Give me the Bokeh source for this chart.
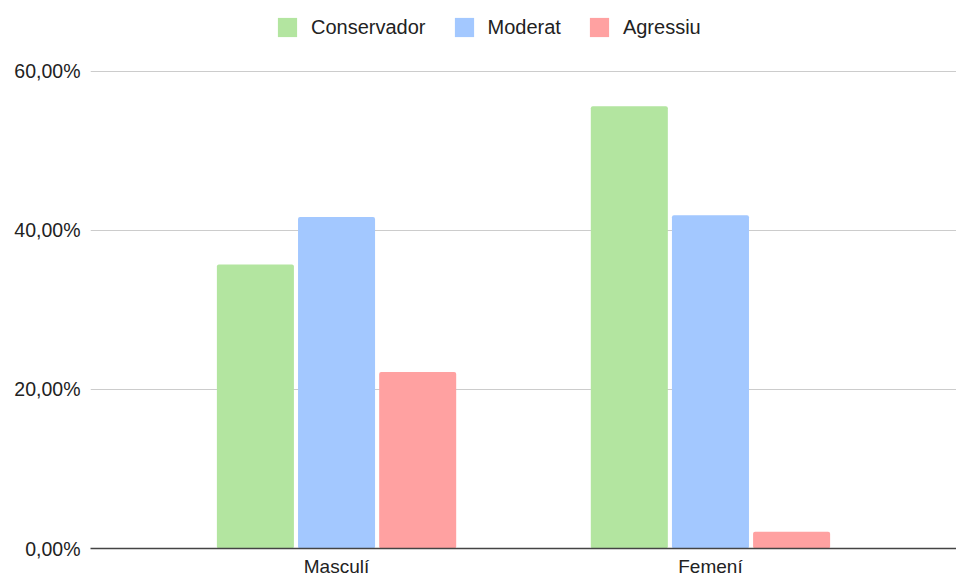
from bokeh.plotting import figure
from bokeh.models import FactorRange, Range1d, FixedTicker, Legend, LegendItem, ColumnDataSource
from bokeh.transform import dodge
from bokeh.embed import file_html
from bokeh.resources import INLINE

# ---- data ----
categories = ["Masculí", "Femení"]
series = ["Conservador", "Moderat", "Agressiu"]
conservador = [0.357, 0.556]
moderat = [0.417, 0.419]
agressiu = [0.222, 0.021]
y_ticks = [0.0, 0.2, 0.4, 0.6]
y_tick_labels = ["0,00%", "20,00%", "40,00%", "60,00%"]
colors = ["#b3e5a0", "#a3c8ff", "#ffa1a1"]

FONT = "Liberation Sans"

source = ColumnDataSource(data=dict(
    cat=categories,
    Conservador=conservador,
    Moderat=moderat,
    Agressiu=agressiu,
))

W, H = 956, 579
B = 549.0   # frame bottom (figure px)
TOP_LINE = 71.0
y_end = 0.6 * B / (B - TOP_LINE)

p = figure(
    x_range=FactorRange(*categories, range_padding=0.158, range_padding_units="absolute"),
    y_range=Range1d(0, y_end),
    width=W, height=H,
    output_backend="svg", toolbar_location=None,
    min_border_left=90, min_border_right=0, min_border_top=0, min_border_bottom=int(H - B),
)
p.outline_line_color = None
p.background_fill_color = "white"

offsets = [-0.217, 0.0, 0.217]
renderers = []
for name, off, col in zip(series, offsets, colors):
    r = p.vbar(x=dodge("cat", off, range=p.x_range), top=name, width=0.206,
               source=source, fill_color=col, line_color=None, border_radius=2)
    renderers.append(r)

p.xgrid.visible = False
p.ygrid.ticker = FixedTicker(ticks=y_ticks)
p.ygrid.grid_line_color = "#cccccc"
p.ygrid.grid_line_width = 1

p.yaxis.ticker = FixedTicker(ticks=y_ticks)
p.yaxis.major_label_overrides = {t: l for t, l in zip(y_ticks, y_tick_labels)}
p.yaxis.axis_line_color = None
p.yaxis.major_tick_line_color = None
p.yaxis.major_tick_out = 0
p.yaxis.major_tick_in = 0
p.yaxis.minor_tick_line_color = None
p.yaxis.major_label_standoff = 10
p.yaxis.major_label_text_font = FONT
p.yaxis.major_label_text_font_size = "19.5px"
p.yaxis.major_label_text_color = "#222222"

p.xaxis.axis_line_color = "#444444"
p.xaxis.axis_line_width = 1.5
p.xaxis.major_tick_line_color = None
p.xaxis.major_tick_out = 0
p.xaxis.major_tick_in = 0
p.xaxis.minor_tick_line_color = None
p.xaxis.major_label_standoff = 7
p.xaxis.major_label_text_font = FONT
p.xaxis.major_label_text_font_size = "19px"
p.xaxis.major_label_text_color = "#222222"

legend = Legend(
    items=[LegendItem(label=n, renderers=[r]) for n, r in zip(series, renderers)],
    orientation="horizontal", location=(185, 509),
    label_text_font=FONT, label_text_font_size="20px", label_text_color="#222222",
    glyph_width=24, glyph_height=24, label_standoff=12, spacing=26,
    border_line_color=None, background_fill_alpha=0, padding=0, margin=0,
)
p.add_layout(legend, "center")

open("out.html", "w").write(file_html(p, INLINE))
